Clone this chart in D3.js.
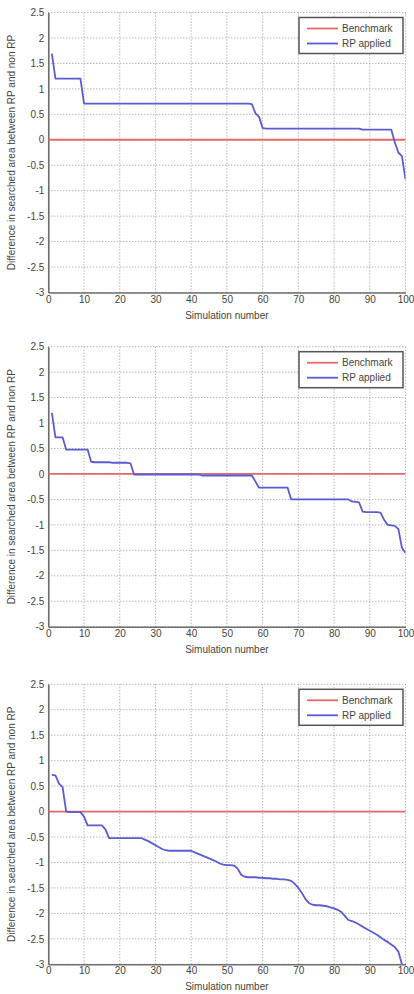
<!DOCTYPE html>
<html>
<head>
<meta charset="utf-8">
<script src="https://cdn.jsdelivr.net/npm/d3@7"></script>
<style>
  html, body { margin: 0; padding: 0; background: #fff; }
  svg { display: block; font-family: "Liberation Sans", Arial, sans-serif; }
</style>
</head>
<body>
<svg id="chart" width="414" height="994"></svg>
<script>
// Simulation index 1..100 shared by all three panels
const simulations = d3.range(1, 101);

// Sorted difference in searched area (RP applied minus non RP), one array per scenario
const scenarioA = [
  1.69, 1.20, 1.20, 1.20, 1.20, 1.20, 1.20, 1.20, 1.20, 0.71,
  0.71, 0.71, 0.71, 0.71, 0.71, 0.71, 0.71, 0.71, 0.71, 0.71,
  0.71, 0.71, 0.71, 0.71, 0.71, 0.71, 0.71, 0.71, 0.71, 0.71,
  0.71, 0.71, 0.71, 0.71, 0.71, 0.71, 0.71, 0.71, 0.71, 0.71,
  0.71, 0.71, 0.71, 0.71, 0.71, 0.71, 0.71, 0.71, 0.71, 0.71,
  0.71, 0.71, 0.71, 0.71, 0.71, 0.71, 0.70, 0.52, 0.45, 0.23,
  0.22, 0.22, 0.22, 0.22, 0.22, 0.22, 0.22, 0.22, 0.22, 0.22,
  0.22, 0.22, 0.22, 0.22, 0.22, 0.22, 0.22, 0.22, 0.22, 0.22,
  0.22, 0.22, 0.22, 0.22, 0.22, 0.22, 0.22, 0.20, 0.20, 0.20,
  0.20, 0.20, 0.20, 0.20, 0.20, 0.20, -0.05, -0.25, -0.32, -0.78
];

const scenarioB = [
  1.20, 0.72, 0.72, 0.72, 0.48, 0.48, 0.48, 0.48, 0.48, 0.48,
  0.48, 0.24, 0.23, 0.23, 0.23, 0.23, 0.23, 0.22, 0.22, 0.22,
  0.22, 0.22, 0.21, -0.01, -0.01, -0.01, -0.01, -0.01, -0.01, -0.01,
  -0.01, -0.01, -0.01, -0.01, -0.01, -0.01, -0.01, -0.01, -0.01, -0.01,
  -0.01, -0.01, -0.03, -0.03, -0.03, -0.03, -0.03, -0.03, -0.03, -0.03,
  -0.03, -0.03, -0.03, -0.03, -0.03, -0.03, -0.03, -0.15, -0.27, -0.27,
  -0.27, -0.27, -0.27, -0.27, -0.27, -0.27, -0.27, -0.50, -0.50, -0.50,
  -0.50, -0.50, -0.50, -0.50, -0.50, -0.50, -0.50, -0.50, -0.50, -0.50,
  -0.50, -0.50, -0.50, -0.50, -0.54, -0.55, -0.56, -0.74, -0.75, -0.75,
  -0.75, -0.75, -0.76, -0.90, -1.00, -1.01, -1.02, -1.08, -1.45, -1.55
];

const scenarioC = [
  0.72, 0.71, 0.55, 0.48, 0.00, -0.01, -0.01, -0.01, -0.01, -0.10,
  -0.27, -0.27, -0.27, -0.27, -0.27, -0.35, -0.52, -0.52, -0.52, -0.52,
  -0.52, -0.52, -0.52, -0.52, -0.52, -0.52, -0.55, -0.58, -0.62, -0.66,
  -0.70, -0.74, -0.76, -0.77, -0.77, -0.77, -0.77, -0.77, -0.77, -0.77,
  -0.80, -0.83, -0.86, -0.89, -0.92, -0.95, -0.98, -1.02, -1.04, -1.05,
  -1.05, -1.06, -1.12, -1.24, -1.28, -1.29, -1.29, -1.29, -1.30, -1.30,
  -1.31, -1.31, -1.32, -1.32, -1.33, -1.33, -1.34, -1.36, -1.42, -1.50,
  -1.60, -1.72, -1.80, -1.83, -1.84, -1.84, -1.85, -1.86, -1.88, -1.90,
  -1.93, -1.97, -2.05, -2.13, -2.15, -2.18, -2.22, -2.26, -2.30, -2.34,
  -2.38, -2.42, -2.47, -2.52, -2.56, -2.61, -2.66, -2.75, -3.00, -3.20
];

const benchmark = simulations.map(() => 0);

const xTicks = d3.range(0, 101, 10);
const yTicks = [-3, -2.5, -2, -1.5, -1, -0.5, 0, 0.5, 1, 1.5, 2, 2.5];
const legendLabels = ["Benchmark", "RP applied"];
const xTitle = "Simulation number";
const yTitle = "Difference in searched area between RP and non RP";

const panels = [
  { values: scenarioA, top: 12.5 },
  { values: scenarioB, top: 346.7 },
  { values: scenarioC, top: 684.3 }
];

const svg = d3.select("#chart");
const left = 48.3, right = 405.5, plotH = 280;
const redCol = "#e26a6a", blueCol = "#5b5bd2";

const x = d3.scaleLinear().domain([0, 100]).range([left, right]);

panels.forEach((p, i) => {
  const y = d3.scaleLinear().domain([-3, 2.5]).range([p.top + plotH, p.top]);
  const g = svg.append("g");
  const clipId = "clip" + i;

  g.append("clipPath").attr("id", clipId)
    .append("rect")
    .attr("x", left).attr("y", p.top)
    .attr("width", right - left).attr("height", plotH);

  // dotted grid, including the frame at the upper and right limits
  g.append("g").selectAll("line").data(xTicks).join("line")
    .attr("x1", d => x(d)).attr("x2", d => x(d))
    .attr("y1", y(2.5)).attr("y2", y(-3))
    .attr("stroke", "#8a8a8a").attr("stroke-width", 0.9)
    .attr("stroke-dasharray", "1,2");
  g.append("g").selectAll("line").data(yTicks).join("line")
    .attr("x1", x(0)).attr("x2", x(100))
    .attr("y1", d => y(d)).attr("y2", d => y(d))
    .attr("stroke", "#8a8a8a").attr("stroke-width", 0.9)
    .attr("stroke-dasharray", "1,2");

  // axes: solid left and bottom
  const yAxis = d3.axisLeft(y).tickValues(yTicks).tickSize(0).tickPadding(4)
    .tickFormat(d => String(d).replace("\u2212", "-"));
  const gy = g.append("g").attr("transform", `translate(${left},0)`).call(yAxis);
  const xAxis = d3.axisBottom(x).tickValues(xTicks).tickSize(0).tickPadding(5)
    .tickFormat(d3.format("d"));
  const gx = g.append("g").attr("transform", `translate(0,${p.top + plotH})`).call(xAxis);
  [gx, gy].forEach(ax => {
    ax.select(".domain").attr("stroke", "#6e6e6e").attr("stroke-width", 1.6);
    ax.selectAll("text").attr("font-size", 10).attr("fill", "#444")
      .attr("font-family", "'Liberation Sans', Arial, sans-serif");
  });
  gx.selectAll("text").attr("dy", "0.5em");

  // axis titles
  g.append("text")
    .attr("x", (left + right) / 2).attr("y", p.top + plotH + 26)
    .attr("text-anchor", "middle").attr("font-size", 10).attr("fill", "#444")
    .text(xTitle);
  g.append("text")
    .attr("transform", `translate(15,${p.top + plotH / 2}) rotate(-90)`)
    .attr("text-anchor", "middle").attr("font-size", 10).attr("fill", "#444")
    .text(yTitle);

  // series
  const line = d3.line().x((d, j) => x(simulations[j])).y(d => y(d));
  const plotG = g.append("g").attr("clip-path", `url(#${clipId})`);
  plotG.append("path").datum(benchmark)
    .attr("d", d3.line().x((d, j) => x(j === 0 ? 0 : simulations[j])).y(d => y(d)))
    .attr("fill", "none").attr("stroke", redCol).attr("stroke-width", 1.8);
  plotG.append("path").datum(p.values)
    .attr("d", line)
    .attr("fill", "none").attr("stroke", blueCol).attr("stroke-width", 1.8)
    .attr("stroke-linejoin", "round");

  // legend box
  const lg = g.append("g").attr("transform", `translate(299,${p.top + 5})`);
  lg.append("rect").attr("width", 104).attr("height", 36)
    .attr("fill", "#fff").attr("stroke", "#555").attr("stroke-width", 1.5);
  [redCol, blueCol].forEach((c, k) => {
    const yy = 11 + k * 15;
    lg.append("line").attr("x1", 8).attr("x2", 39).attr("y1", yy).attr("y2", yy)
      .attr("stroke", c).attr("stroke-width", 1.8);
    lg.append("text").attr("x", 43).attr("y", yy).attr("dy", "0.35em")
      .attr("font-size", 10).attr("fill", "#444").text(legendLabels[k]);
  });
});
</script>
</body>
</html>
